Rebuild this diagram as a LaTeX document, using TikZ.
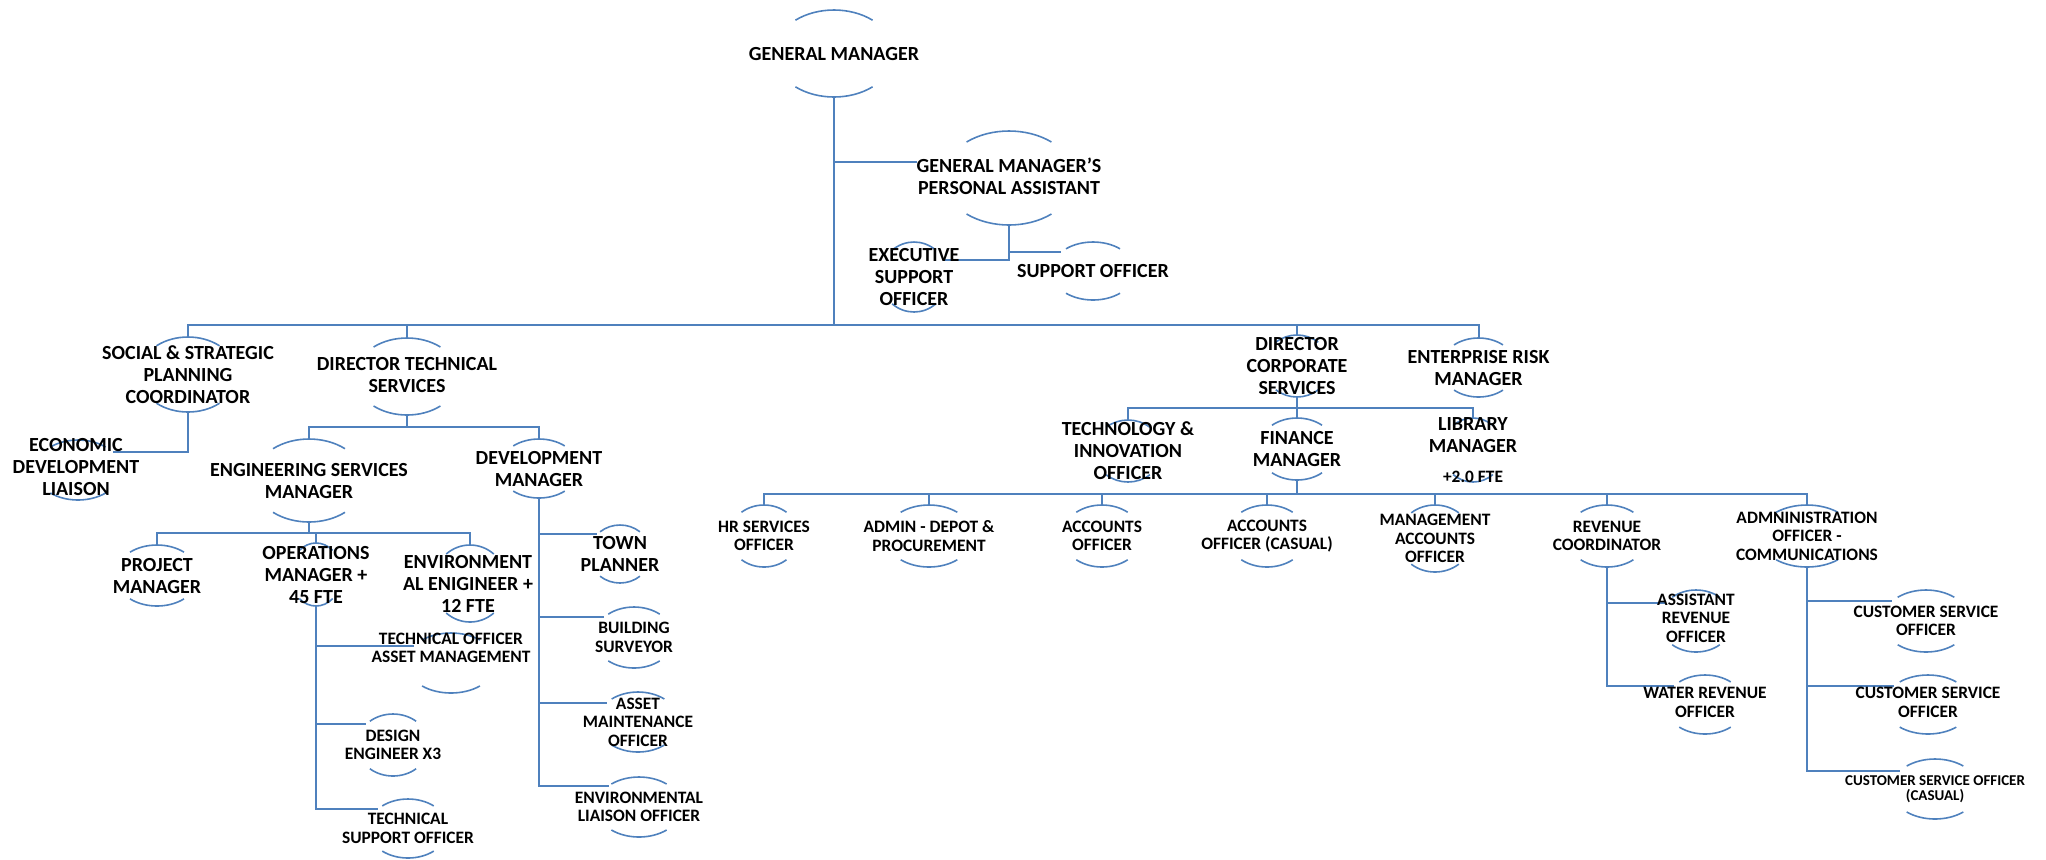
\documentclass[tikz,border=0pt]{standalone}
\usepackage{fontspec}
\setmainfont{Carlito}
\usetikzlibrary{shapes.geometric,calc,backgrounds}
\definecolor{orgblue}{RGB}{79,129,189}

% top and bottom arcs of a role ellipse
\newcommand{\rolearcs}[1]{%
  \draw[arcline] let \p1=(#1.east), \p2=(#1.north), \p3=(#1.center) in
    ($(\p3)+({cos(50)*(\x1-\x3)},{sin(50)*(\y2-\y3)})$)
      arc[start angle=50, end angle=130, x radius={\x1-\x3}, y radius={\y2-\y3}]
    ($(\p3)+({cos(230)*(\x1-\x3)},{sin(230)*(\y2-\y3)})$)
      arc[start angle=230, end angle=310, x radius={\x1-\x3}, y radius={\y2-\y3}];}

\begin{document}
\begin{tikzpicture}[x=0.5pt, y=-0.5pt,
    link/.style={draw=orgblue, line width=1pt},
    arcline/.style={draw=orgblue, line width=0.8pt},
    role/.style 2 args={ellipse, inner sep=0pt, outer sep=0pt,
      minimum width=#1*0.5pt, minimum height=#2*0.5pt},
    bigtxt/.style={font=\fontsize{10}{11}\selectfont\bfseries, align=center, inner sep=0pt},
    midtxt/.style={font=\fontsize{8.7}{9.3}\selectfont\bfseries, align=center, inner sep=0pt},
    smalltxt/.style={font=\fontsize{7.5}{7.6}\selectfont\bfseries, align=center, inner sep=0pt}]
  \useasboundingbox (0,0) rectangle (2046,859);

  % general manager and office
  \node[role={120}{87}, label={[bigtxt]center:{GENERAL MANAGER}}] (gm) at (834,53.5) {};
  \node[role={132}{94}, label={[bigtxt,yshift=1pt]center:{GENERAL MANAGER'S\\PERSONAL ASSISTANT}}] (gmpa) at (1009,178) {};
  \node[role={68}{70}, label={[bigtxt]center:{EXECUTIVE\\SUPPORT\\OFFICER}}] (eso) at (914,277) {};
  \node[role={84}{58}, label={[bigtxt]center:{SUPPORT OFFICER}}] (so) at (1093,271) {};

  % directors
  \node[role={98}{75}, label={[bigtxt]center:{SOCIAL \& STRATEGIC\\PLANNING\\COORDINATOR}}] (social) at (188,374.5) {};
  \node[role={86}{60}, label={[bigtxt,xshift=-1pt,yshift=1.5pt]center:{ECONOMIC\\DEVELOPMENT\\LIAISON}}] (econ) at (78,470) {};
  \node[role={104}{77}, label={[bigtxt,yshift=1pt]center:{DIRECTOR TECHNICAL\\SERVICES}}] (dts) at (407,376.5) {};
  \node[role={66}{62}, label={[bigtxt]center:{DIRECTOR\\CORPORATE\\SERVICES}}] (dcs) at (1297,366) {};
  \node[role={76}{59}, label={[bigtxt]center:{ENTERPRISE RISK\\MANAGER}}] (erm) at (1478.5,367.5) {};

  % technical services
  \node[role={112}{83}, label={[bigtxt]center:{ENGINEERING SERVICES\\MANAGER}}] (esm) at (309,480.5) {};
  \node[role={80}{59}, label={[bigtxt]center:{DEVELOPMENT\\MANAGER}}] (dm) at (539,468.5) {};
  \node[role={84}{61}, label={[bigtxt]center:{PROJECT\\MANAGER}}] (pm) at (157,575.5) {};
  \node[role={52}{63}, label={[bigtxt]center:{OPERATIONS\\MANAGER +\\45 FTE}}] (ops) at (316,574.5) {};
  \node[role={74}{77}, label={[bigtxt,xshift=-1pt]center:{ENVIRONMENT\\AL ENIGINEER +\\12 FTE}}] (env) at (470,583.5) {};
  \node[role={90}{60}, label={[midtxt,yshift=7.5pt]center:{TECHNICAL OFFICER\\ASSET MANAGEMENT}}] (toam) at (451,663) {};
  \node[role={72}{62}, label={[midtxt]center:{DESIGN\\ENGINEER X3}}] (de) at (393,745) {};
  \node[role={80}{59}, label={[midtxt]center:{TECHNICAL\\SUPPORT OFFICER}}] (tso) at (408,828.5) {};
  \node[role={62}{58}, label={[bigtxt]center:{TOWN\\PLANNER}}] (town) at (620,554) {};
  \node[role={80}{61}, label={[midtxt]center:{BUILDING\\SURVEYOR}}] (bs) at (634,637.5) {};
  \node[role={82}{60}, label={[midtxt]center:{ASSET\\MAINTENANCE\\OFFICER}}] (amo) at (638,722) {};
  \node[role={86}{60}, label={[midtxt]center:{ENVIRONMENTAL\\LIAISON OFFICER}}] (elo) at (639,807) {};

  % corporate services
  \node[role={68}{62}, label={[bigtxt]center:{TECHNOLOGY \&\\INNOVATION\\OFFICER}}] (ti) at (1128,451) {};
  \node[role={78}{62}, label={[bigtxt]center:{FINANCE\\MANAGER}}] (fin) at (1297,449) {};
  \node[role={62}{64}, label={[bigtxt,yshift=7.25pt]center:{LIBRARY\\MANAGER}},
    label={[midtxt,yshift=-13.5pt]center:{+2.0 FTE}}] (lib) at (1473,450) {};
  \node[role={70}{62}, label={[midtxt]center:{HR SERVICES\\OFFICER}}] (hr) at (764,536) {};
  \node[role={88}{62}, label={[midtxt]center:{ADMIN - DEPOT \&\\PROCUREMENT}}] (depot) at (929,536) {};
  \node[role={80}{62}, label={[midtxt]center:{ACCOUNTS\\OFFICER}}] (accoff) at (1102,536) {};
  \node[role={80}{62}, label={[midtxt]center:{ACCOUNTS\\OFFICER (CASUAL)}}] (acccas) at (1267,536) {};
  \node[role={74}{67}, label={[midtxt]center:{MANAGEMENT\\ACCOUNTS\\OFFICER}}] (mgmt) at (1435,538.5) {};
  \node[role={82}{62}, label={[midtxt]center:{REVENUE\\COORDINATOR}}] (revc) at (1607,536) {};
  \node[role={96}{62}, label={[midtxt]center:{ADMNINISTRATION\\OFFICER -\\COMMUNICATIONS}}] (adcom) at (1807,536) {};
  \node[role={74}{62}, label={[midtxt,yshift=1.5pt]center:{ASSISTANT\\REVENUE\\OFFICER}}] (asrev) at (1696,621) {};
  \node[role={80}{59}, label={[midtxt,yshift=1pt]center:{WATER REVENUE\\OFFICER}}] (wrev) at (1705,704.5) {};
  \node[role={88}{62}, label={[midtxt]center:{CUSTOMER SERVICE\\OFFICER}}] (cso1) at (1926,621) {};
  \node[role={88}{59}, label={[midtxt,yshift=1pt]center:{CUSTOMER SERVICE\\OFFICER}}] (cso2) at (1928,704.5) {};
  \node[role={88}{60}, label={[smalltxt]center:{CUSTOMER SERVICE OFFICER\\(CASUAL)}}] (csocas) at (1935,789) {};

  % bus lines
  \coordinate (bus1) at (834,325);
  \coordinate (pa-in) at (917,162);
  \coordinate (bus2) at (407,427);
  \coordinate (bus3) at (309,533);
  \coordinate (bus4) at (1297,408);
  \coordinate (bus5) at (1297,494);

  \begin{pgfonlayer}{background}
    % draw arcs
    \foreach \nd in {gm,gmpa,eso,so,social,econ,dts,dcs,erm,esm,dm,pm,ops,env,toam,de,tso,
        town,bs,amo,elo,ti,fin,lib,hr,depot,accoff,acccas,mgmt,revc,adcom,asrev,wrev,cso1,cso2,csocas}
      {\rolearcs{\nd}}

    % top levels
    \draw[link] (gm.south) -- (bus1);
    \draw[link] (gm.south |- pa-in) -- (pa-in);
    \draw[link] (gmpa.south) |- (eso.30);
    \draw[link] (gmpa.south) |- (so.150);
    \draw[link] (social.north) |- (bus1) -| (erm.north);
    \foreach \nd in {dts,dcs}
      \draw[link] (\nd.north) -- (\nd.north |- bus1);
    \draw[link] (social.south) |- (econ.27);

    % technical services
    \draw[link] (dts.south) -- (bus2);
    \draw[link] (esm.north) |- (bus2) -| (dm.north);
    \draw[link] (esm.south) -- (bus3);
    \draw[link] (pm.north) |- (bus3) -| (env.north);
    \draw[link] (ops.north) -- (ops.north |- bus3);
    \draw[link] (ops.south) |- (toam.156);
    \draw[link] (ops.south) |- (de.142);
    \draw[link] (ops.south) |- (tso.147);
    \draw[link] (dm.south) |- (town.139);
    \draw[link] (dm.south) |- (bs.146);
    \draw[link] (dm.south) |- (amo.148);
    \draw[link] (dm.south) |- (elo.145);

    % corporate services
    \draw[link] (dcs.south) -- (bus4);
    \draw[link] (ti.north) |- (bus4) -| (lib.north);
    \draw[link] (fin.north) -- (fin.north |- bus4);
    \draw[link] (fin.south) -- (bus5);
    \draw[link] (hr.north) |- (bus5) -| (adcom.north);
    \foreach \nd in {depot,accoff,acccas,mgmt,revc}
      \draw[link] (\nd.north) -- (\nd.north |- bus5);
    \draw[link] (revc.south) |- (asrev.149);
    \draw[link] (revc.south) |- (wrev.149);
    \draw[link] (adcom.south) |- (cso1.150);
    \draw[link] (adcom.south) |- (cso2.152);
    \draw[link] (adcom.south) |- (csocas.152);
  \end{pgfonlayer}
\end{tikzpicture}
\end{document}
